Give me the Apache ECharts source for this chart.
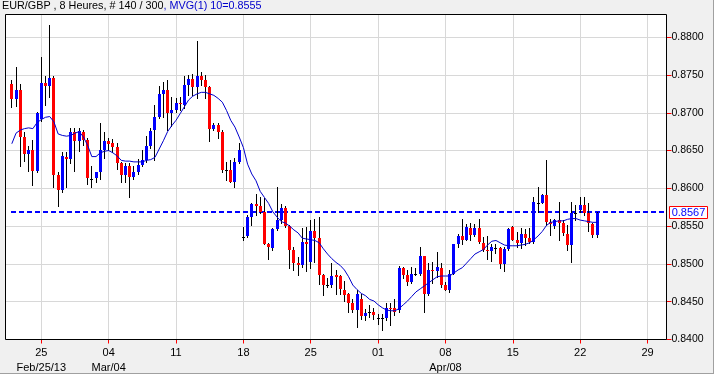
<!DOCTYPE html>
<html><head><meta charset="utf-8">
<style>html,body{margin:0;padding:0;background:#ffffff;}#c{width:716px;height:377px;}</style>
<script src="https://cdn.jsdelivr.net/npm/echarts@6/dist/echarts.min.js"></script>
</head><body><div id="c"></div>
<script>
const opens=[0.8738,0.8718,0.8730,0.8668,0.8646,0.8651,0.8623,0.8692,0.8739,0.8736,
0.8746,0.8618,0.8598,0.8642,0.8639,0.8674,0.8663,0.8675,0.8664,0.8613,
0.8614,0.8621,0.8651,0.8663,0.8660,0.8655,0.8634,0.8618,0.8629,0.8615,
0.8622,0.8631,0.8637,0.8656,0.8677,0.8694,0.8725,0.8730,0.8700,0.8704,
0.8713,0.8710,0.8737,0.8745,0.8734,0.8749,0.8744,0.8734,0.8678,0.8684,
0.8675,0.8624,0.8624,0.8609,0.8635,0.8536,0.8537,0.8562,0.8579,0.8576,
0.8569,0.8527,0.8521,0.8546,0.8558,0.8574,0.8550,0.8518,0.8501,0.8499,
0.8529,0.8503,0.8543,0.8534,0.8485,0.8472,0.8472,0.8485,0.8484,0.8466,
0.8460,0.8448,0.8439,0.8454,0.8431,0.8436,0.8437,0.8428,0.8429,0.8429,
0.8442,0.8442,0.8439,0.8495,0.8485,0.8476,0.8487,0.8487,0.8510,0.8460,
0.8492,0.8490,0.8495,0.8472,0.8465,0.8487,0.8526,0.8537,0.8532,0.8548,
0.8538,0.8547,0.8528,0.8518,0.8517,0.8521,0.8521,0.8500,0.8520,0.8549,
0.8532,0.8528,0.8540,0.8534,0.8529,0.8581,0.8581,0.8591,0.8556,0.8550,
0.8558,0.8554,0.8540,0.8525,0.8568,0.8571,0.8578,0.8568,0.8553,0.8538];
const highs=[0.8744,0.8760,0.8738,0.8674,0.8656,0.8664,0.8701,0.8774,0.8748,0.8816,
0.8749,0.8622,0.8648,0.8648,0.8680,0.8680,0.8680,0.8677,0.8666,0.8630,
0.8622,0.8686,0.8675,0.8667,0.8665,0.8660,0.8635,0.8633,0.8633,0.8629,
0.8639,0.8651,0.8669,0.8680,0.8710,0.8735,0.8741,0.8743,0.8721,0.8719,
0.8721,0.8749,0.8750,0.8751,0.8795,0.8754,0.8750,0.8735,0.8686,0.8687,
0.8677,0.8635,0.8638,0.8640,0.8660,0.8549,0.8565,0.8581,0.8593,0.8589,
0.8587,0.8528,0.8548,0.8602,0.8579,0.8577,0.8551,0.8523,0.8509,0.8547,
0.8549,0.8558,0.8560,0.8562,0.8486,0.8481,0.8501,0.8492,0.8485,0.8477,
0.8461,0.8454,0.8465,0.8460,0.8441,0.8446,0.8442,0.8434,0.8434,0.8448,
0.8448,0.8453,0.8497,0.8496,0.8492,0.8496,0.8495,0.8523,0.8511,0.8501,
0.8503,0.8516,0.8501,0.8476,0.8492,0.8527,0.8540,0.8560,0.8553,0.8554,
0.8553,0.8560,0.8535,0.8537,0.8526,0.8527,0.8523,0.8522,0.8548,0.8550,
0.8542,0.8547,0.8546,0.8547,0.8589,0.8602,0.8593,0.8638,0.8560,0.8560,
0.8582,0.8558,0.8551,0.8582,0.8578,0.8589,0.8589,0.8580,0.8554,0.8569];
const lows=[0.8708,0.8709,0.8630,0.8636,0.8623,0.8604,0.8621,0.8689,0.8710,0.8721,
0.8602,0.8577,0.8595,0.8602,0.8634,0.8623,0.8649,0.8657,0.8606,0.8602,
0.8608,0.8613,0.8640,0.8651,0.8648,0.8626,0.8609,0.8609,0.8589,0.8613,
0.8619,0.8630,0.8635,0.8654,0.8638,0.8693,0.8695,0.8677,0.8682,0.8701,
0.8704,0.8706,0.8724,0.8724,0.8719,0.8737,0.8719,0.8663,0.8677,0.8666,
0.8622,0.8611,0.8608,0.8602,0.8633,0.8532,0.8536,0.8551,0.8565,0.8567,
0.8526,0.8506,0.8519,0.8545,0.8554,0.8549,0.8494,0.8492,0.8485,0.8496,
0.8490,0.8494,0.8503,0.8474,0.8459,0.8470,0.8470,0.8460,0.8460,0.8451,
0.8437,0.8437,0.8417,0.8427,0.8426,0.8430,0.8427,0.8421,0.8412,0.8426,
0.8419,0.8432,0.8437,0.8482,0.8472,0.8475,0.8485,0.8485,0.8436,0.8459,
0.8475,0.8483,0.8469,0.8465,0.8463,0.8486,0.8523,0.8527,0.8531,0.8532,
0.8537,0.8528,0.8517,0.8507,0.8504,0.8514,0.8494,0.8491,0.8518,0.8531,
0.8523,0.8521,0.8525,0.8528,0.8528,0.8569,0.8580,0.8551,0.8538,0.8548,
0.8531,0.8538,0.8518,0.8503,0.8558,0.8569,0.8565,0.8543,0.8536,0.8536];
const closes=[0.8718,0.8730,0.8668,0.8646,0.8651,0.8623,0.8700,0.8739,0.8735,0.8746,
0.8618,0.8598,0.8643,0.8639,0.8675,0.8663,0.8676,0.8664,0.8614,0.8613,
0.8621,0.8651,0.8663,0.8659,0.8655,0.8634,0.8618,0.8629,0.8615,0.8622,
0.8631,0.8637,0.8656,0.8676,0.8694,0.8725,0.8730,0.8700,0.8704,0.8713,
0.8711,0.8737,0.8745,0.8734,0.8749,0.8744,0.8734,0.8678,0.8684,0.8675,
0.8624,0.8624,0.8609,0.8635,0.8651,0.8536,0.8562,0.8579,0.8576,0.8569,
0.8527,0.8523,0.8546,0.8558,0.8574,0.8550,0.8518,0.8501,0.8499,0.8529,
0.8526,0.8543,0.8534,0.8485,0.8472,0.8472,0.8484,0.8483,0.8467,0.8459,
0.8448,0.8439,0.8460,0.8431,0.8435,0.8436,0.8433,0.8428,0.8429,0.8442,
0.8441,0.8437,0.8495,0.8485,0.8476,0.8487,0.8487,0.8510,0.8460,0.8492,
0.8490,0.8496,0.8472,0.8466,0.8487,0.8526,0.8537,0.8531,0.8549,0.8538,
0.8547,0.8529,0.8518,0.8517,0.8522,0.8521,0.8500,0.8520,0.8546,0.8532,
0.8528,0.8540,0.8534,0.8529,0.8582,0.8581,0.8591,0.8556,0.8553,0.8558,
0.8554,0.8541,0.8525,0.8568,0.8568,0.8578,0.8568,0.8554,0.8538,0.8567];
const ma10=[0.8659,0.8673,0.8677,0.8679,0.8680,0.8679,0.8687,0.8691,0.8694,0.8695,
0.8688,0.8672,0.8670,0.8669,0.8670,0.8673,0.8675,0.8668,0.8657,0.8642,
0.8642,0.8647,0.8649,0.8650,0.8647,0.8643,0.8637,0.8636,0.8636,0.8635,
0.8635,0.8635,0.8637,0.8638,0.8641,0.8652,0.8663,0.8675,0.8683,0.8690,
0.8699,0.8708,0.8717,0.8722,0.8725,0.8727,0.8727,0.8725,0.8723,0.8719,
0.8714,0.8703,0.8690,0.8681,0.8668,0.8654,0.8632,0.8619,0.8610,0.8596,
0.8588,0.8580,0.8569,0.8562,0.8556,0.8554,0.8550,0.8545,0.8541,0.8534,
0.8533,0.8532,0.8531,0.8528,0.8520,0.8513,0.8507,0.8502,0.8498,0.8492,
0.8483,0.8472,0.8466,0.8461,0.8458,0.8453,0.8451,0.8446,0.8442,0.8439,
0.8438,0.8438,0.8441,0.8446,0.8451,0.8457,0.8463,0.8467,0.8471,0.8475,
0.8479,0.8483,0.8484,0.8484,0.8484,0.8488,0.8492,0.8495,0.8501,0.8507,
0.8513,0.8516,0.8519,0.8525,0.8530,0.8531,0.8528,0.8525,0.8524,0.8524,
0.8524,0.8525,0.8526,0.8528,0.8532,0.8537,0.8543,0.8551,0.8555,0.8556,
0.8557,0.8557,0.8559,0.8560,0.8560,0.8558,0.8557,0.8556,0.8555,0.8555];
const lastPrice=0.8567;
const maLastText='0.8555';
const titleMain='EUR/GBP , 8 Heures, # 140 / 300';
const titleMa=', MVG(1) 10='+maLastText;
const tickIndex=[8,24,40,56,72,88,104,120,136,152];
const tickLabels=['25\nFeb/25/13','04\nMar/04','11','18','25','01','08\nApr/08','15','22','29'];
const yTicks=[0.84,0.845,0.85,0.855,0.86,0.865,0.87,0.875,0.88];
const leadSlots=1, totalSlots=157;

const categories=Array.from({length:totalSlots},(_,j)=>String(j));
const candles=opens.map((o,i)=>[i+leadSlots,o,closes[i],lows[i],highs[i]]);
const maData=ma10.map((v,i)=>[i+leadSlots,v]);
const isTick=(i)=>tickIndex.indexOf(i)>=0;
const FONT='"Liberation Sans", Arial, sans-serif';

const chart=echarts.init(document.getElementById('c'),null,{renderer:'canvas'});
chart.setOption({
  animation:false,
  backgroundColor:'#ffffff',
  grid:{left:5.5,top:14.5,width:661,height:325,show:true,backgroundColor:'#ffffff',borderWidth:0},
  xAxis:{type:'category',data:categories,boundaryGap:true,
    axisLine:{show:false},
    axisTick:{show:true,alignWithLabel:true,interval:isTick,length:4,lineStyle:{color:'#ff0000'}},
    axisLabel:{interval:isTick,formatter:(v,i)=>tickLabels[tickIndex.indexOf(Number(v))]||'',color:'#000',fontSize:11,fontFamily:FONT,lineHeight:15,margin:6},
    splitLine:{show:true,alignWithLabel:true,interval:isTick,lineStyle:{color:'#d8d8d8',width:1}}
  },
  yAxis:{type:'value',position:'right',min:0.84,max:0.883,interval:0.005,
    axisLine:{show:false},
    axisTick:{show:true,length:5,customValues:yTicks,lineStyle:{color:'#ff0000'}},
    axisLabel:{customValues:yTicks,formatter:v=>v.toFixed(4),color:'#000',fontSize:10.5,fontFamily:FONT,margin:5},
    splitLine:{show:true,lineStyle:{color:'#d8d8d8',width:1}}
  },
  graphic:[
    {type:'rect',z:-10,silent:true,shape:{x:0,y:0,width:713,height:373},style:{fill:'#f0f0f0'}},
    {type:'rect',z:-9,silent:true,shape:{x:5.5,y:14.5,width:661,height:325},style:{fill:'#ffffff'}},
    {type:'line',z:100,silent:true,shape:{x1:713.5,y1:0,x2:713.5,y2:374},style:{stroke:'#a0a0a0',lineWidth:1}},
    {type:'line',z:100,silent:true,shape:{x1:0,y1:373.5,x2:714,y2:373.5},style:{stroke:'#a0a0a0',lineWidth:1}},
    {type:'rect',z:100,silent:true,shape:{x:5.5,y:14.5,width:661,height:325},style:{fill:null,stroke:'#000',lineWidth:1}},
    {type:'text',left:2,top:1,z:100,style:{text:'{a|'+titleMain+'}{b|'+titleMa+'}',rich:{a:{fill:'#000',fontSize:10.8,fontFamily:FONT},b:{fill:'#0000cc',fontSize:10.8,fontFamily:FONT}}}}
  ],
  series:[
    {type:'custom',data:[[leadSlots,lastPrice]],encode:{x:0,y:1},z:2,clip:false,silent:true,
      renderItem:function(params,api){
        const p=api.coord([api.value(0),api.value(1)]);
        const cs=params.coordSys;
        const right=cs.x+cs.width;
        const y=Math.round(p[1])-1;
        return {type:'group',children:[
          {type:'line',shape:{x1:Math.floor(p[0]),y1:y,x2:right,y2:y},style:{stroke:'#0000ff',lineWidth:2,lineDash:[5,3]}},
          {type:'rect',shape:{x:669.5,y:y-5.5,width:38,height:12},style:{fill:'#ffffff',stroke:'#ff0000',lineWidth:1}},
          {type:'text',style:{text:api.value(1).toFixed(4),x:688.5,y:y+0.5,align:'center',verticalAlign:'middle',fill:'#0000ff',font:'11px '+FONT}}
        ]};
      }
    },
    {type:'custom',data:candles,encode:{x:0,y:[1,2,3,4]},z:3,
      renderItem:function(params,api){
        const j=api.value(0),o=api.value(1),c=api.value(2),l=api.value(3),h=api.value(4);
        const pO=api.coord([j,o]),pC=api.coord([j,c]),pL=api.coord([j,l]),pH=api.coord([j,h]);
        const x=Math.floor(pO[0]);
        const color=c>o?'#0000ff':(c<o?'#ff0000':'#000000');
        const top=Math.round(Math.min(pO[1],pC[1])),bot=Math.round(Math.max(pO[1],pC[1]));
        const hh=Math.max(1,bot-top);
        return {type:'group',children:[
          {type:'line',shape:{x1:x+0.5,y1:Math.round(pH[1]),x2:x+0.5,y2:Math.round(pL[1])+1},style:{stroke:'#000',lineWidth:1}},
          {type:'rect',shape:{x:x-1,y:top,width:3,height:hh},style:{fill:color}}
        ]};
      }
    },
    {type:'line',data:maData,showSymbol:false,symbol:'none',z:4,silent:true,
      lineStyle:{color:'#0000cc',width:1}
    }
  ]
});
</script></body></html>
